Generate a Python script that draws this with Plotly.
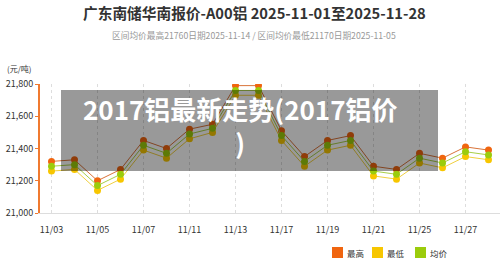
import plotly.graph_objects as go

dates = ["11/03", "11/04", "11/05", "11/06", "11/07", "11/10", "11/11", "11/12", "11/13", "11/14",
         "11/17", "11/18", "11/19", "11/20", "11/21", "11/24", "11/25", "11/26", "11/27", "11/28"]
high = [21320, 21330, 21200, 21270, 21450, 21400, 21520, 21550, 21790, 21790,
        21510, 21350, 21450, 21480, 21290, 21270, 21370, 21340, 21410, 21390]
low = [21260, 21270, 21140, 21210, 21390, 21340, 21460, 21500, 21730, 21730,
       21450, 21290, 21390, 21420, 21230, 21210, 21310, 21280, 21350, 21330]
avg = [21290, 21300, 21170, 21240, 21420, 21370, 21490, 21525, 21760, 21760,
       21480, 21320, 21420, 21450, 21260, 21240, 21340, 21310, 21380, 21360]
tick_labels = dates[::2]
y_ticks = [21000, 21200, 21400, 21600, 21800]

FONT = "Noto Sans CJK SC"
series = [("最高", high, "#f0650f", "#d9743a"),
          ("最低", low, "#f7c600", "#f0d040"),
          ("均价", avg, "#9bcc0c", "#a8cf48")]

L, R, T, B = 40, 500, 84, 213
W, H = R - L, B - T


def px(x):
    return (x - L) / W


def py(y):
    return (B - y) / H


fig = go.Figure()
for name, vals, mc, lc in series:
    fig.add_trace(go.Scatter(x=dates, y=vals, mode="lines+markers", name=name,
                             line=dict(color=lc, width=1),
                             marker=dict(color=mc, size=7),
                             showlegend=False, hoverinfo="skip"))

fig.update_layout(
    width=500, height=262,
    margin=dict(l=L, r=500 - R, t=T, b=262 - B, autoexpand=False),
    paper_bgcolor="white", plot_bgcolor="white",
    font=dict(family=FONT, size=9, color="#333"),
    showlegend=False,
    xaxis=dict(type="category", categoryorder="array", categoryarray=dates,
               tickmode="array", tickvals=tick_labels, ticktext=tick_labels,
               showgrid=True, gridcolor="#dddddd", griddash="dot", gridwidth=1,
               showline=True, linecolor="#dddddd", linewidth=1,
               ticks="", ticklabelstandoff=8, tickfont=dict(size=9, color="#333"),
               range=[-0.5, len(dates) - 0.5], zeroline=False),
    yaxis=dict(range=[21000, 21800], tickvals=y_ticks, tickformat=",d",
               showgrid=False, zeroline=False,
               showline=True, linecolor="#f07a30", linewidth=2,
               ticks="outside", ticklen=3, tickcolor="#f07a30",
               tickfont=dict(size=9, color="#333")),
)

# titles
fig.add_annotation(text="<b>广东南储华南报价-A00铝 2025-11-01至2025-11-28</b>",
                   xref="paper", yref="paper", x=px(254), y=py(13),
                   showarrow=False, font=dict(size=14.7, color="#333", family=FONT),
                   xanchor="center", yanchor="middle")
fig.add_annotation(text="区间均价最高21760日期2025-11-14 / 区间均价最低21170日期2025-11-05",
                   xref="paper", yref="paper", x=px(254), y=py(35),
                   showarrow=False, font=dict(size=8.7, color="#999", family=FONT),
                   xanchor="center", yanchor="middle")
fig.add_annotation(text="(元/吨)", xref="paper", yref="paper", x=px(19), y=py(68),
                   showarrow=False, font=dict(size=8, color="#333", family=FONT),
                   xanchor="center", yanchor="middle")

# legend (drawn manually)
legend_pos = [332, 372, 415]
for (name, vals, mc, lc), lx in zip(series, legend_pos):
    fig.add_shape(type="rect", xref="paper", yref="paper",
                  x0=px(lx), x1=px(lx + 11), y0=py(258), y1=py(247),
                  fillcolor=mc, line=dict(width=0))
    fig.add_annotation(text=name, xref="paper", yref="paper", x=px(lx + 13), y=py(252.5),
                       showarrow=False, font=dict(size=8.5, color="#333", family=FONT),
                       xanchor="left", yanchor="middle")

# overlay banner
fig.add_shape(type="rect", xref="paper", yref="paper",
              x0=px(61), x1=px(438), y0=py(171), y1=py(90),
              fillcolor="rgba(0,0,0,0.4)", line=dict(width=0), layer="above")
fig.add_annotation(text="<b>2017铝最新走势(2017铝价<br>)</b>", xref="paper", yref="paper",
                   x=px(240), y=py(125), showarrow=False, align="center",
                   font=dict(size=26, color="white", family=FONT),
                   xanchor="center", yanchor="middle")

fig.write_html("out.html")
